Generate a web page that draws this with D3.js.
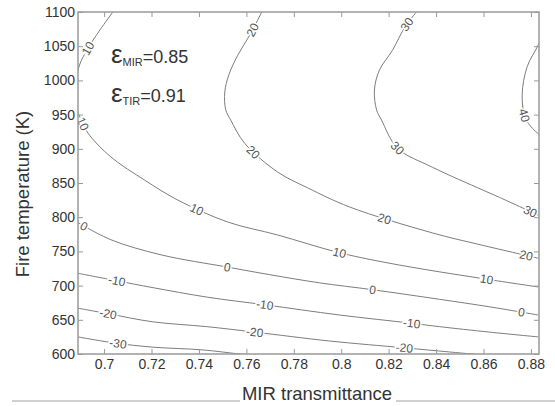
<!DOCTYPE html>
<html>
<head>
<meta charset="utf-8">
<script src="https://d3js.org/d3.v7.min.js"></script>
<style>
  body { margin: 0; background: #fff; }
  svg { display: block; font-family: Arial, 'Liberation Sans', sans-serif; }
</style>
</head>
<body>
<svg id="chart" width="555" height="406"></svg>
<script>
// axis ticks
const xTicks = [0.70, 0.72, 0.74, 0.76, 0.78, 0.80, 0.82, 0.84, 0.86, 0.88];
const xTickLabels = ["0.7", "0.72", "0.74", "0.76", "0.78", "0.8", "0.82", "0.84", "0.86", "0.88"];
const yTicks = [600, 650, 700, 750, 800, 850, 900, 950, 1000, 1050, 1100];
const yTickLabels = ["600", "650", "700", "750", "800", "850", "900", "950", "1000", "1050", "1100"];

// contour lines: [MIR transmittance, fire temperature K]
const line40 = [[0.8856, 1074], [0.8831, 1052], [0.8784, 1020], [0.8763, 979], [0.8776, 945], [0.8806, 930], [0.8831, 922], [0.8869, 910]];
const line30 = [[0.8317, 1100], [0.8267, 1077], [0.8216, 1044], [0.8161, 1015], [0.8140, 986], [0.8149, 957], [0.8170, 942], [0.8237, 901], [0.8385, 873], [0.8595, 840], [0.8667, 829], [0.8831, 803]];
const line20 = [[0.7665, 1100], [0.7614, 1066], [0.7564, 1037], [0.7526, 1008], [0.7509, 983], [0.7513, 957], [0.7534, 942], [0.7593, 908], [0.7732, 866], [0.7858, 843], [0.8035, 815], [0.8385, 777], [0.8595, 759], [0.8831, 740]];
const line10 = [[0.7037, 1100], [0.6983, 1074], [0.6932, 1047], [0.6898, 1024], [0.6882, 1001], [0.6877, 979], [0.6886, 957], [0.6900, 945], [0.6932, 923], [0.7029, 888], [0.7172, 854], [0.7311, 825], [0.7521, 793], [0.7732, 774], [0.7993, 748], [0.8246, 730], [0.8582, 711], [0.8831, 698]];
const line0 = [[0.6890, 792], [0.7029, 767], [0.7240, 745], [0.7521, 727], [0.7698, 716], [0.7909, 704], [0.8132, 694], [0.8414, 680], [0.8625, 669], [0.8831, 657]];
const lineM10 = [[0.6890, 718], [0.7054, 707], [0.7206, 697], [0.7437, 683], [0.7677, 672], [0.7993, 657], [0.8296, 645], [0.8414, 640], [0.8625, 632], [0.8831, 625]];
const lineM20 = [[0.6890, 667], [0.7016, 659], [0.7206, 647], [0.7433, 640], [0.7635, 632], [0.7951, 619], [0.8267, 609], [0.8456, 603], [0.8646, 597]];
const lineM30 = [[0.6890, 625], [0.7046, 616], [0.7206, 610], [0.7416, 606], [0.7572, 600], [0.7698, 596]];

// where the inline level labels sit
const labels40 = [[0.8772, 949]];
const labels30 = [[0.8279, 1082], [0.8237, 901], [0.8793, 806]];
const labels20 = [[0.7627, 1074], [0.7627, 894], [0.8182, 796], [0.8780, 742]];
const labels10 = [[0.6935, 1046], [0.6903, 935], [0.7387, 809], [0.7993, 748], [0.8612, 705]];
const labels0 = [[0.6915, 787], [0.7521, 727], [0.8132, 694], [0.8759, 660]];
const labelsM10 = [[0.7054, 707], [0.7677, 672], [0.8296, 645]];
const labelsM20 = [[0.7016, 659], [0.7635, 634], [0.8267, 609]];
const labelsM30 = [[0.7058, 616]];

const contours = [
  { level: 40, pts: line40, labels: labels40 },
  { level: 30, pts: line30, labels: labels30 },
  { level: 20, pts: line20, labels: labels20 },
  { level: 10, pts: line10, labels: labels10 },
  { level: 0, pts: line0, labels: labels0 },
  { level: -10, pts: lineM10, labels: labelsM10 },
  { level: -20, pts: lineM20, labels: labelsM20 },
  { level: -30, pts: lineM30, labels: labelsM30 }
];

const plotL = 78, plotR = 539, plotT = 12, plotB = 354;

const svg = d3.select("#chart");

const x = d3.scaleLinear().domain([0.689, 0.8834]).range([plotL, plotR]);
const y = d3.scaleLinear().domain([600, 1100]).range([plotB, plotT]);

svg.append("defs").append("clipPath").attr("id", "plotclip")
  .append("rect")
  .attr("x", plotL).attr("y", plotT)
  .attr("width", plotR - plotL).attr("height", plotB - plotT);

const line = d3.line()
  .x(d => x(d[0]))
  .y(d => y(d[1]))
  .curve(d3.curveCatmullRom.alpha(0.5));

const gLines = svg.append("g").attr("clip-path", "url(#plotclip)");
const gLabels = svg.append("g").attr("clip-path", "url(#plotclip)");

contours.forEach(c => {
  const path = gLines.append("path")
    .attr("d", line(c.pts))
    .attr("fill", "none")
    .attr("stroke", "#7d7d7d")
    .attr("stroke-width", 1);

  const node = path.node();
  const total = node.getTotalLength();
  const samples = [];
  for (let l = 0; l <= total; l += 0.5) {
    const p = node.getPointAtLength(l);
    samples.push({ l: l, x: p.x, y: p.y });
  }

  c.labels.forEach(lab => {
    const px = x(lab[0]), py = y(lab[1]);
    let best = samples[0], bd = Infinity;
    samples.forEach(s => {
      const d = (s.x - px) ** 2 + (s.y - py) ** 2;
      if (d < bd) { bd = d; best = s; }
    });
    const a = node.getPointAtLength(Math.max(0, best.l - 4));
    const b = node.getPointAtLength(Math.min(total, best.l + 4));
    let ang = Math.atan2(b.y - a.y, b.x - a.x) * 180 / Math.PI;
    if (ang > 90) ang -= 180;
    if (ang < -90) ang += 180;

    gLabels.append("text")
      .attr("transform", `translate(${best.x},${best.y}) rotate(${ang})`)
      .attr("text-anchor", "middle")
      .attr("dy", "0.35em")
      .attr("font-size", 12)
      .attr("fill", "#555")
      .attr("stroke", "#fff")
      .attr("stroke-width", 3)
      .attr("paint-order", "stroke")
      .text(c.level);
  });
});

// axes, ticks pointing inward
const axisColor = "#999";

const gx = svg.append("g").attr("transform", `translate(0,${plotB})`)
  .call(d3.axisBottom(x).tickValues(xTicks).tickSizeInner(-5).tickSizeOuter(0).tickPadding(5)
    .tickFormat((d, i) => xTickLabels[i]));
const gxTop = svg.append("g").attr("transform", `translate(0,${plotT})`)
  .call(d3.axisTop(x).tickValues(xTicks).tickSizeInner(-5).tickSizeOuter(0).tickFormat(""));
const gy = svg.append("g").attr("transform", `translate(${plotL},0)`)
  .call(d3.axisLeft(y).tickValues(yTicks).tickSizeInner(-5).tickSizeOuter(0).tickPadding(3)
    .tickFormat((d, i) => yTickLabels[i]));
const gyRight = svg.append("g").attr("transform", `translate(${plotR},0)`)
  .call(d3.axisRight(y).tickValues(yTicks).tickSizeInner(-5).tickSizeOuter(0).tickFormat(""));

[gx, gxTop, gy, gyRight].forEach(g => {
  g.select(".domain").remove();
  g.selectAll(".tick line").attr("stroke", axisColor).attr("stroke-width", 1);
  g.selectAll(".tick text").attr("fill", "#333").attr("font-size", 14)
    .attr("font-family", "Arial, 'Liberation Sans', sans-serif");
});

svg.append("rect")
  .attr("x", plotL).attr("y", plotT)
  .attr("width", plotR - plotL).attr("height", plotB - plotT)
  .attr("fill", "none")
  .attr("stroke", axisColor)
  .attr("stroke-width", 1.5);

// emissivity note
const note = [["MIR", "=0.85", 63], ["TIR", "=0.91", 102]];
note.forEach(n => {
  const t = svg.append("text").attr("x", 111).attr("y", n[2]).attr("fill", "#333");
  t.append("tspan").attr("font-size", 26).text("ε");
  t.append("tspan").attr("font-size", 11).attr("dy", 3).text(n[0]);
  t.append("tspan").attr("font-size", 18).attr("dy", -3).text(n[1]);
});

// axis titles
svg.append("text")
  .attr("x", 317).attr("y", 400)
  .attr("text-anchor", "middle")
  .attr("font-size", 18.5)
  .attr("fill", "#333")
  .text("MIR transmittance");

svg.append("text")
  .attr("transform", "translate(29,194) rotate(-90)")
  .attr("text-anchor", "middle")
  .attr("font-size", 18.5)
  .attr("fill", "#333")
  .text("Fire temperature (K)");

// thin page rule under the chart
[[12, 240], [396, 555]].forEach(s => {
  svg.append("line")
    .attr("x1", s[0]).attr("x2", s[1])
    .attr("y1", 401).attr("y2", 401)
    .attr("stroke", "#d0d0d0")
    .attr("stroke-width", 2);
});
</script>
</body>
</html>
